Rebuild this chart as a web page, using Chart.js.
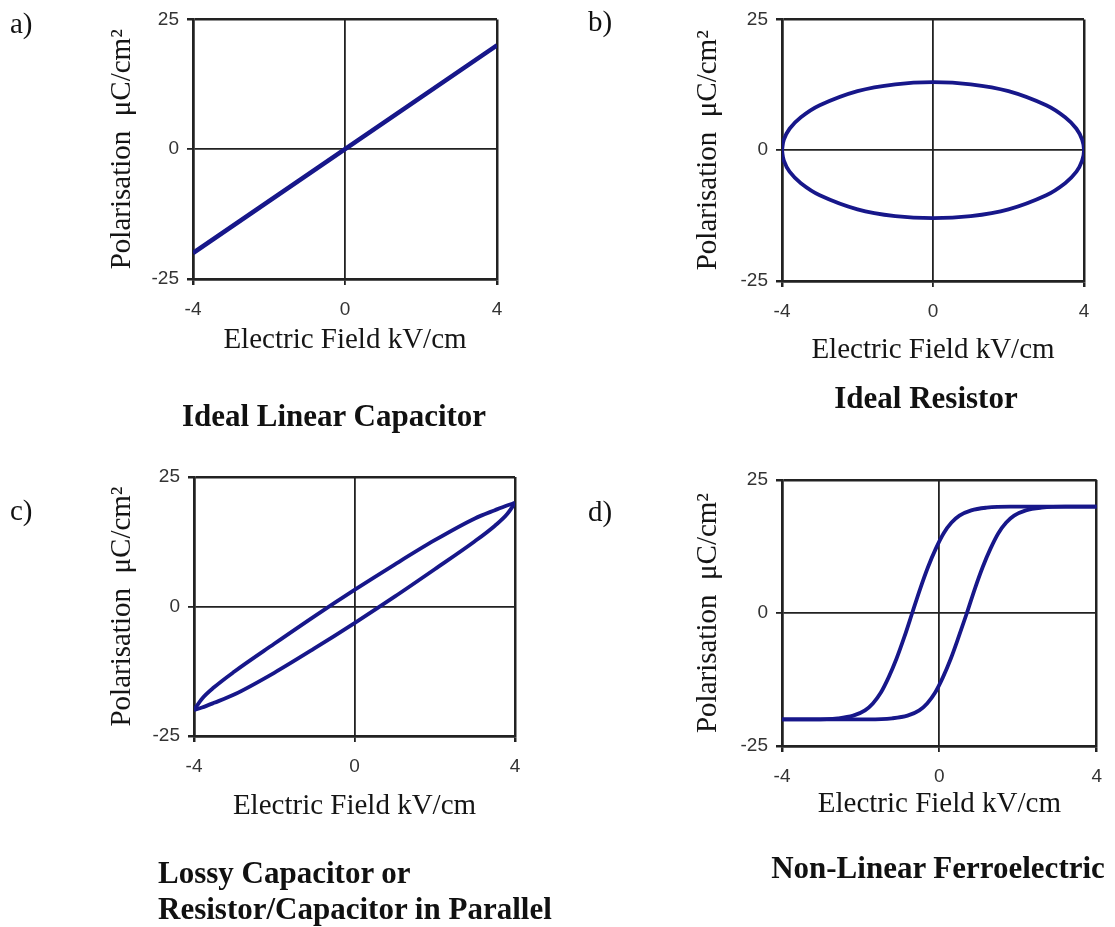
<!DOCTYPE html>
<html>
<head>
<meta charset="utf-8">
<script src="https://cdn.jsdelivr.net/npm/chart.js@4.4.1/dist/chart.umd.min.js"></script>
<style>
body { margin: 0; background: #fff; }
#page { position: relative; width: 1115px; height: 927px; overflow: hidden; }
canvas { position: absolute; }
.lbl { position: absolute; font-family: 'Liberation Serif', 'Times New Roman', serif; font-size: 29px; color: #111; line-height: 1; white-space: nowrap; transform: translateY(-50%); }
.ttl { position: absolute; font-family: 'Liberation Serif', 'Times New Roman', serif; font-weight: bold; font-size: 31px; color: #111; line-height: 1; white-space: nowrap; }
.mid { transform: translate(-50%, -50%); }
.left { transform: translateY(-50%); }
</style>
</head>
<body>
<div id="page">
  <canvas id="chart_a" width="557" height="440" style="left:0;top:0"></canvas>
  <canvas id="chart_b" width="558" height="440" style="left:557px;top:0"></canvas>
  <canvas id="chart_c" width="557" height="487" style="left:0;top:440px"></canvas>
  <canvas id="chart_d" width="558" height="487" style="left:557px;top:440px"></canvas>

  <div class="lbl" style="left:10px;top:23px">a)</div>
  <div class="lbl" style="left:588px;top:21px">b)</div>
  <div class="lbl" style="left:10px;top:510px">c)</div>
  <div class="lbl" style="left:588px;top:511px">d)</div>

  <div class="ttl mid" style="left:334px;top:415px">Ideal Linear Capacitor</div>
  <div class="ttl mid" style="left:926px;top:397px">Ideal Resistor</div>
  <div class="ttl left" style="left:158px;top:872px">Lossy Capacitor or</div>
  <div class="ttl left" style="left:158px;top:908px">Resistor/Capacitor in Parallel</div>
  <div class="ttl mid" style="left:938px;top:867px">Non-Linear Ferroelectric</div>
</div>

<script>
// a) ideal linear capacitor
const linearE = [-4, 0, 4];
const linearP = [-20, 0, 20];

// b) ideal resistor (closed loop, upper half then lower half)
const resistorE = [-4, -3.95, -3.8, -3.5, -3, -2, -1, 0, 1, 2, 3, 3.5, 3.8, 3.95, 4,
                   3.95, 3.8, 3.5, 3, 2, 1, 0, -1, -2, -3, -3.5, -3.8, -3.95, -4];
const resistorP = [0, 2, 4.1, 6.3, 8.6, 11.3, 12.6, 13, 12.6, 11.3, 8.6, 6.3, 4.1, 2, 0,
                   -2, -4.1, -6.3, -8.6, -11.3, -12.6, -13, -12.6, -11.3, -8.6, -6.3, -4.1, -2, 0];

// c) lossy capacitor, upper and lower branch
const lossyE = [-4, -3.8, -3.5, -3, -2, -1, 0, 1, 2, 3, 3.5, 3.8, 4];
const lossyUpP = [-20, -17.8, -15.6, -12.6, -7.2, -1.9, 3.2, 8.1, 12.8, 17, 18.6, 19.5, 20];
const lossyLowP = [-20, -19.5, -18.6, -17, -12.8, -8.1, -3.2, 1.9, 7.2, 12.6, 15.6, 17.8, 20];

// d) ferroelectric hysteresis, two branches
const fallE = [-4, -3.2, -2.58, -2.19, -1.89, -1.69, -1.49, -1.29, -1.09, -0.89, -0.69,
               -0.49, -0.29, -0.09, 0.11, 0.31, 0.51, 0.81, 1.2, 1.8, 4];
const fallP = [-20, -20, -19.8, -19.3, -18.3, -17, -15, -12.1, -8.6, -4.5, 0,
               4.5, 8.6, 12.1, 15, 17, 18.3, 19.3, 19.8, 20, 20];
const riseE = [-4, -1.8, -1.2, -0.81, -0.51, -0.31, -0.11, 0.09, 0.29, 0.49, 0.7,
               0.9, 1.1, 1.3, 1.5, 1.7, 1.9, 2.2, 2.6, 3.2, 4];
const riseP = [-20, -20, -19.8, -19.3, -18.3, -17, -15, -12.1, -8.6, -4.5, 0,
               4.5, 8.6, 12.1, 15, 17, 18.3, 19.3, 19.8, 20, 20];

const fieldTicks = { min: -4, max: 4, step: 4 };
const polTicks = { min: -25, max: 25, step: 25 };
const xLabel = 'Electric Field kV/cm';
const yLabel = 'Polarisation  \u03bcC/cm\u00b2';

const LINE = '#17178a';
const GRID = '#222222';
const SERIF = "'Liberation Serif', 'Times New Roman', serif";
const SANS = "'Liberation Sans', Arial, sans-serif";

function toPoints(xs, ys) {
    return xs.map((x, i) => ({ x: x, y: ys[i] }));
}

function panel(id, box, sets) {
    const canvas = document.getElementById(id);
    const titleFont = { family: SERIF, size: 29 };
    const lh = titleFont.size * 1.2;
    const xHeight = box.xTitle - box.bottom + lh / 2;
    const gridOpts = {
        color: GRID,
        lineWidth: ctx => (ctx.tick && ctx.tick.value === 0) ? 1.8 : 2.5,
        tickLength: 6,
        drawTicks: true
    };
    const tickFont = { family: SANS, size: 19 };

    new Chart(canvas, {
        type: 'scatter',
        data: {
            datasets: sets.map(s => ({
                data: s.points,
                showLine: true,
                borderColor: LINE,
                backgroundColor: LINE,
                borderWidth: s.width,
                pointRadius: 0,
                tension: s.tension || 0,
                cubicInterpolationMode: s.mode || 'default',
                fill: false
            }))
        },
        options: {
            responsive: false,
            animation: false,
            layout: {
                padding: {
                    left: 0,
                    top: box.top,
                    right: canvas.width - box.right,
                    bottom: canvas.height - box.bottom - xHeight
                }
            },
            plugins: {
                legend: { display: false },
                tooltip: { enabled: false }
            },
            scales: {
                x: {
                    type: 'linear',
                    min: fieldTicks.min,
                    max: fieldTicks.max,
                    ticks: { stepSize: fieldTicks.step, font: tickFont, color: '#333', padding: 13, maxRotation: 0 },
                    grid: gridOpts,
                    border: { display: true, color: GRID, width: 2.5 },
                    title: { display: true, text: xLabel, font: titleFont, color: '#151515', padding: 0 },
                    afterFit: s => { s.height = xHeight; }
                },
                y: {
                    type: 'linear',
                    min: polTicks.min,
                    max: polTicks.max,
                    ticks: { stepSize: polTicks.step, font: tickFont, color: '#333', padding: 8 },
                    grid: gridOpts,
                    border: { display: true, color: GRID, width: 2.5 },
                    title: { display: true, text: yLabel, font: titleFont, color: '#151515',
                             padding: { top: box.yTitle - lh / 2, bottom: 0 } },
                    afterFit: s => { s.width = box.left; }
                }
            }
        }
    });
}

window.onload = function () {
    panel('chart_a', { left: 193, top: 18, right: 497, bottom: 279, xTitle: 340, yTitle: 122 }, [
        { points: toPoints(linearE, linearP), width: 4.5 }
    ]);
    panel('chart_b', { left: 225, top: 19, right: 527, bottom: 281, xTitle: 350, yTitle: 151 }, [
        { points: toPoints(resistorE, resistorP), width: 3.8, tension: 0.4 }
    ]);
    panel('chart_c', { left: 194, top: 37, right: 515, bottom: 296, xTitle: 366, yTitle: 122 }, [
        { points: toPoints(lossyE, lossyUpP), width: 3.8, mode: 'monotone' },
        { points: toPoints(lossyE, lossyLowP), width: 3.8, mode: 'monotone' }
    ]);
    panel('chart_d', { left: 225, top: 40, right: 544, bottom: 306, xTitle: 364, yTitle: 151 }, [
        { points: toPoints(fallE, fallP), width: 3.8, mode: 'monotone' },
        { points: toPoints(riseE, riseP), width: 3.8, mode: 'monotone' }
    ]);
};
</script>
</body>
</html>
